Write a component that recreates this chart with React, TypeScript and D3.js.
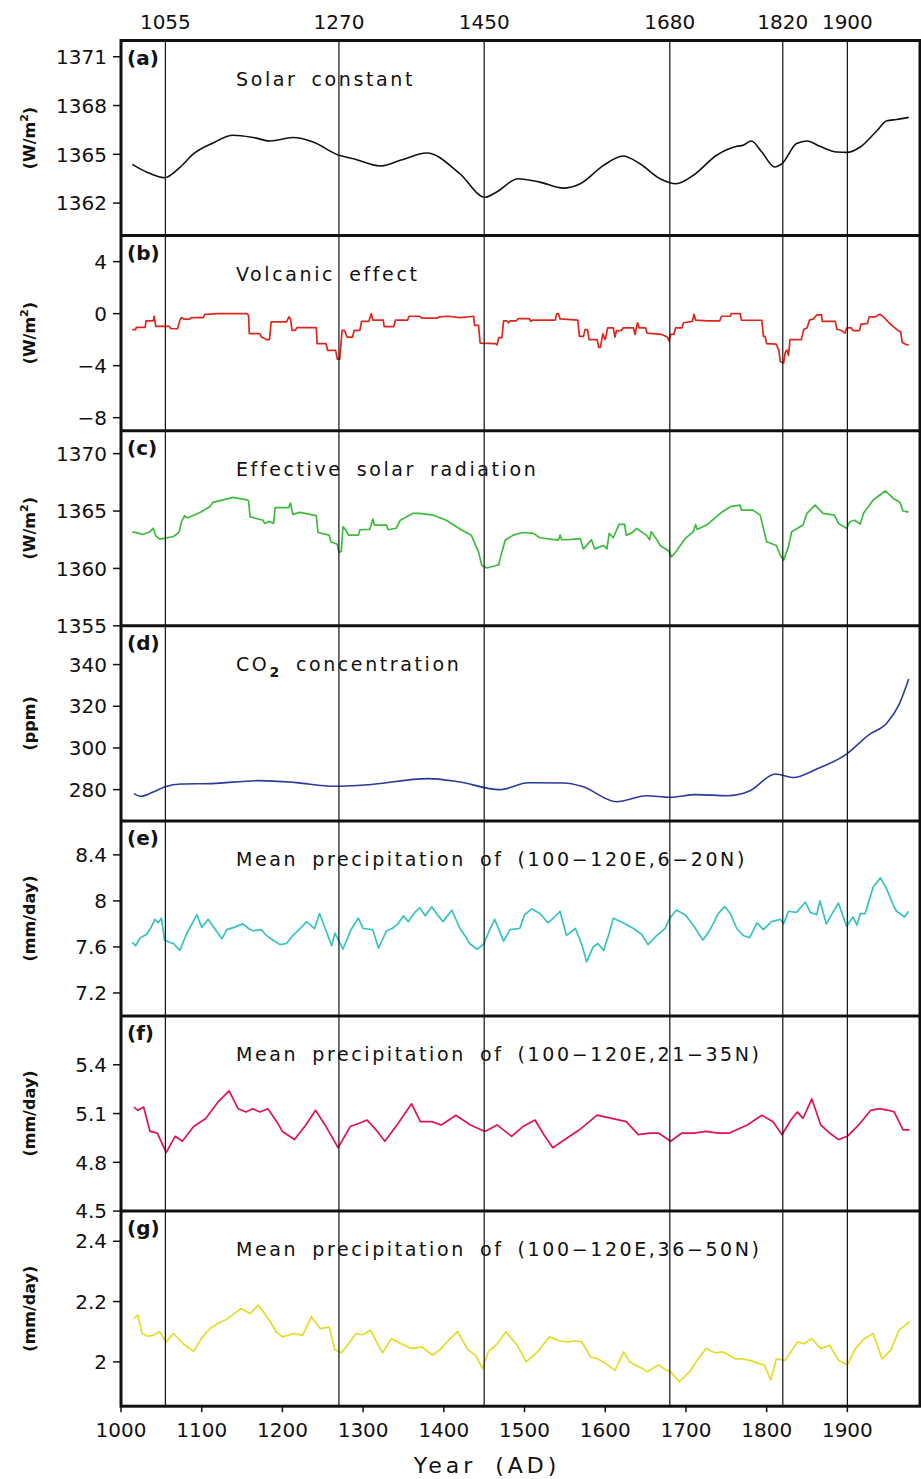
import React from 'react';
import * as d3 from 'd3';

type Pt = [number, number];

const eventYears = [1055, 1270, 1450, 1680, 1820, 1900];
const xTickYears = [1000, 1100, 1200, 1300, 1400, 1500, 1600, 1700, 1800, 1900];

const solarConstant: Pt[] = [[1014,1364.38],[1032,1363.9],[1054,1363.56],[1073,1364.2],[1090,1365.04],[1114,1365.7],[1139,1366.17],[1164,1366.03],[1185,1365.82],[1213,1366.03],[1238,1365.76],[1270,1364.94],[1288,1364.73],[1321,1364.28],[1346,1364.63],[1379,1365.08],[1420,1363.8],[1451,1362.36],[1465,1362.67],[1492,1363.5],[1519,1363.29],[1548,1362.92],[1569,1363.19],[1598,1364.32],[1622,1364.9],[1643,1364.42],[1668,1363.5],[1688,1363.19],[1709,1363.7],[1738,1364.94],[1763,1365.49],[1771,1365.56],[1781,1365.82],[1794,1365.14],[1810,1364.22],[1819,1364.42],[1837,1365.66],[1850,1365.82],[1866,1365.49],[1887,1365.14],[1899,1365.12],[1916,1365.45],[1936,1366.42],[1949,1367.06],[1961,1367.14],[1976,1367.27]];

const volcanic: Pt[] = [[1014,-1.23],[1018,-1.23],[1019,-1.05],[1030,-1.05],[1031,-0.55],[1040,-0.55],[1041,-0.2],[1042,-0.55],[1043,-0.98],[1060,-0.98],[1062,-1.16],[1070,-1.16],[1073,-0.5],[1075,-0.3],[1078,-0.42],[1085,-0.42],[1087,-0.3],[1102,-0.3],[1104,-0.05],[1120,0],[1156,0],[1158,-0.13],[1159,-1.54],[1172,-1.54],[1174,-1.8],[1178,-1.9],[1180,-2.0],[1184,-2.0],[1186,-0.64],[1205,-0.64],[1208,-0.25],[1210,-0.4],[1212,-1.28],[1216,-1.28],[1218,-1.08],[1242,-1.08],[1243,-2.31],[1254,-2.31],[1256,-2.82],[1266,-2.82],[1268,-3.5],[1271,-3.5],[1274,-1.28],[1277,-1.28],[1280,-1.8],[1287,-1.8],[1289,-1.28],[1296,-1.28],[1298,-0.6],[1307,-0.6],[1310,0],[1312,-0.5],[1325,-0.5],[1326,-1.0],[1338,-1.0],[1340,-0.5],[1355,-0.5],[1357,-0.2],[1370,-0.2],[1373,-0.35],[1392,-0.35],[1394,-0.25],[1405,-0.2],[1420,-0.3],[1437,-0.2],[1438,-0.9],[1443,-0.9],[1445,-2.26],[1464,-2.3],[1466,-2.4],[1468,-1.85],[1472,-1.85],[1474,-0.55],[1478,-0.55],[1480,-0.7],[1482,-0.55],[1490,-0.55],[1492,-0.39],[1506,-0.39],[1508,-0.6],[1510,-0.5],[1538,-0.5],[1540,0],[1542,0],[1544,-0.4],[1566,-0.5],[1568,-1.75],[1573,-1.75],[1575,-1.23],[1578,-1.23],[1580,-2.0],[1590,-2.0],[1592,-2.6],[1594,-2.6],[1597,-1.55],[1600,-2.0],[1603,-1.1],[1610,-1.1],[1612,-1.8],[1614,-1.3],[1620,-1.3],[1622,-1.1],[1635,-1.1],[1637,-1.6],[1640,-0.7],[1642,-1.1],[1650,-1.1],[1652,-1.5],[1670,-1.6],[1677,-1.8],[1679,-2.1],[1681,-1.6],[1685,-1.6],[1687,-1.1],[1695,-1.1],[1697,-0.7],[1708,-0.6],[1710,-0.05],[1712,-0.5],[1726,-0.55],[1742,-0.55],[1744,-0.2],[1755,-0.2],[1756,0],[1767,0],[1769,-0.51],[1794,-0.51],[1796,-1.75],[1798,-1.75],[1800,-2.3],[1812,-2.35],[1815,-2.8],[1817,-3.7],[1821,-3.8],[1823,-3.0],[1825,-2.8],[1827,-3.2],[1829,-2.0],[1843,-2.0],[1846,-1.2],[1850,-1.1],[1853,-0.5],[1858,-0.4],[1862,-0.1],[1868,-0.1],[1869,-0.6],[1885,-0.6],[1887,-1.2],[1893,-1.3],[1897,-1.5],[1899,-1.1],[1905,-1.1],[1907,-1.3],[1915,-1.3],[1917,-0.8],[1925,-0.75],[1927,-0.25],[1935,-0.25],[1940,-0.05],[1944,-0.2],[1950,-0.6],[1955,-0.9],[1963,-1.3],[1966,-1.4],[1968,-2.2],[1972,-2.35],[1976,-2.42]];

const effectiveSolar: Pt[] = [[1014,1363.19],[1020,1363.1],[1027,1362.96],[1036,1363.2],[1040,1363.5],[1043,1362.84],[1048,1362.55],[1065,1362.78],[1072,1363.16],[1075,1364.07],[1079,1364.59],[1082,1364.4],[1098,1364.88],[1110,1365.38],[1114,1365.76],[1139,1366.19],[1156,1365.97],[1158,1365.9],[1160,1364.5],[1176,1364.2],[1178,1363.92],[1184,1364.1],[1189,1363.92],[1191,1365.29],[1208,1365.3],[1210,1365.7],[1213,1364.71],[1222,1364.88],[1242,1364.6],[1244,1363.13],[1258,1362.9],[1260,1362.32],[1268,1362.1],[1270,1361.39],[1273,1361.5],[1275,1363.63],[1278,1363.4],[1282,1362.9],[1294,1362.9],[1296,1363.37],[1308,1363.4],[1310,1363.78],[1312,1364.3],[1314,1363.78],[1329,1363.78],[1331,1363.37],[1341,1363.5],[1346,1364.2],[1362,1364.8],[1370,1364.8],[1387,1364.64],[1403,1364.2],[1420,1363.43],[1434,1362.9],[1443,1361.44],[1447,1360.28],[1453,1360.04],[1466,1360.28],[1468,1360.3],[1470,1360.92],[1476,1362.46],[1486,1362.9],[1498,1363.13],[1511,1363.05],[1519,1362.67],[1542,1362.46],[1544,1362.9],[1546,1362.5],[1552,1362.5],[1569,1362.6],[1573,1361.7],[1578,1362.1],[1583,1362.5],[1587,1361.7],[1598,1362.0],[1602,1361.7],[1605,1363.05],[1610,1362.67],[1617,1363.83],[1624,1363.83],[1626,1362.9],[1633,1363.1],[1639,1363.48],[1651,1362.9],[1655,1362.5],[1657,1363.2],[1664,1362.5],[1668,1362.0],[1679,1361.5],[1682,1361.0],[1688,1361.5],[1693,1362.0],[1699,1362.6],[1709,1363.19],[1712,1363.83],[1714,1363.4],[1726,1363.8],[1744,1364.88],[1755,1365.38],[1767,1365.52],[1769,1365.08],[1783,1365.08],[1792,1364.64],[1796,1363.49],[1800,1362.32],[1812,1362.0],[1817,1361.15],[1821,1360.72],[1827,1361.9],[1831,1363.19],[1845,1363.78],[1850,1364.8],[1860,1365.52],[1866,1365.08],[1870,1364.8],[1884,1364.64],[1889,1363.92],[1899,1363.49],[1903,1364.07],[1909,1364.2],[1916,1363.87],[1920,1364.8],[1932,1365.96],[1947,1366.75],[1957,1366.1],[1965,1365.76],[1969,1365.0],[1976,1364.9]];

const co2: Pt[] = [[1016,278.1],[1025,276.8],[1039,278.7],[1054,281.3],[1075,282.7],[1112,282.9],[1170,284.3],[1214,283.5],[1265,281.6],[1301,282.2],[1381,285.3],[1418,283.8],[1469,280],[1505,283.3],[1549,283.2],[1571,281.6],[1614,274.2],[1651,277.1],[1680,276.3],[1712,277.6],[1752,277.1],[1778,279.2],[1811,287.5],[1833,285.8],[1862,289.9],[1898,296.8],[1927,306.4],[1949,312],[1964,320.8],[1976,333.1]];

const precipSouth: Pt[] = [[1014,7.64],[1018,7.61],[1024,7.68],[1032,7.71],[1038,7.78],[1042,7.84],[1046,7.81],[1050,7.85],[1054,7.66],[1060,7.64],[1065,7.63],[1073,7.57],[1081,7.71],[1088,7.8],[1094,7.88],[1100,7.77],[1108,7.84],[1116,7.76],[1125,7.67],[1131,7.75],[1140,7.77],[1151,7.8],[1158,7.76],[1164,7.74],[1174,7.75],[1180,7.7],[1188,7.66],[1197,7.62],[1205,7.63],[1213,7.7],[1222,7.76],[1230,7.82],[1240,7.76],[1246,7.89],[1253,7.76],[1261,7.61],[1265,7.72],[1275,7.58],[1285,7.75],[1294,7.85],[1300,7.76],[1312,7.75],[1319,7.59],[1329,7.74],[1336,7.76],[1343,7.8],[1350,7.87],[1356,7.82],[1364,7.9],[1370,7.94],[1377,7.87],[1385,7.95],[1392,7.88],[1399,7.82],[1410,7.92],[1420,7.76],[1426,7.7],[1432,7.63],[1441,7.58],[1449,7.62],[1457,7.75],[1463,7.84],[1470,7.72],[1474,7.65],[1482,7.75],[1494,7.76],[1500,7.88],[1509,7.93],[1519,7.89],[1529,7.81],[1537,7.86],[1544,7.91],[1552,7.7],[1563,7.76],[1571,7.62],[1577,7.47],[1585,7.6],[1591,7.63],[1598,7.57],[1604,7.7],[1610,7.85],[1622,7.81],[1635,7.76],[1645,7.71],[1653,7.62],[1664,7.7],[1674,7.76],[1680,7.85],[1688,7.92],[1699,7.88],[1709,7.79],[1721,7.66],[1730,7.75],[1740,7.89],[1748,7.95],[1755,7.89],[1763,7.76],[1771,7.7],[1779,7.68],[1788,7.81],[1796,7.75],[1806,7.82],[1817,7.84],[1821,7.8],[1827,7.91],[1837,7.9],[1848,7.99],[1854,7.9],[1862,7.88],[1866,8.0],[1874,7.8],[1882,7.9],[1889,7.98],[1899,7.78],[1907,7.86],[1912,7.79],[1916,7.89],[1922,7.89],[1932,8.12],[1941,8.2],[1949,8.1],[1957,7.96],[1961,7.91],[1967,7.88],[1971,7.86],[1976,7.91]];

const precipMiddle: Pt[] = [[1016,5.14],[1021,5.12],[1028,5.14],[1036,4.99],[1045,4.98],[1056,4.86],[1067,4.96],[1076,4.93],[1090,5.02],[1105,5.07],[1120,5.17],[1134,5.24],[1145,5.13],[1155,5.11],[1163,5.13],[1172,5.11],[1182,5.13],[1193,5.05],[1200,4.99],[1215,4.94],[1229,5.03],[1241,5.12],[1254,5.02],[1269,4.89],[1284,5.02],[1295,5.04],[1305,5.06],[1316,5.0],[1327,4.93],[1342,5.03],[1360,5.16],[1371,5.05],[1385,5.05],[1397,5.03],[1415,5.09],[1433,5.03],[1451,4.99],[1466,5.03],[1484,4.96],[1498,5.02],[1513,5.06],[1524,4.97],[1535,4.89],[1550,4.94],[1568,5.0],[1590,5.09],[1608,5.07],[1626,5.05],[1641,4.97],[1655,4.98],[1666,4.98],[1681,4.93],[1695,4.98],[1710,4.98],[1725,4.99],[1740,4.98],[1754,4.98],[1776,5.03],[1794,5.09],[1808,5.05],[1819,4.97],[1830,5.06],[1838,5.11],[1845,5.07],[1856,5.19],[1867,5.03],[1878,4.98],[1889,4.94],[1900,4.96],[1914,5.03],[1929,5.12],[1940,5.13],[1951,5.12],[1958,5.11],[1969,5.0],[1977,5.0]];

const precipNorth: Pt[] = [[1016,2.144],[1021,2.155],[1026,2.094],[1033,2.085],[1040,2.088],[1048,2.1],[1056,2.066],[1065,2.094],[1077,2.06],[1090,2.035],[1101,2.083],[1110,2.11],[1120,2.127],[1130,2.14],[1138,2.155],[1149,2.177],[1160,2.16],[1170,2.188],[1178,2.16],[1185,2.133],[1192,2.1],[1200,2.083],[1215,2.094],[1225,2.088],[1236,2.15],[1247,2.11],[1258,2.115],[1265,2.04],[1273,2.03],[1282,2.06],[1291,2.094],[1300,2.09],[1309,2.105],[1316,2.07],[1324,2.03],[1335,2.077],[1347,2.06],[1360,2.044],[1373,2.05],[1386,2.022],[1395,2.04],[1404,2.066],[1417,2.1],[1430,2.04],[1440,2.02],[1448,1.978],[1455,2.033],[1466,2.06],[1477,2.1],[1491,2.055],[1502,2.0],[1516,2.033],[1531,2.083],[1543,2.07],[1553,2.066],[1563,2.07],[1571,2.066],[1582,2.016],[1591,2.01],[1601,1.994],[1612,1.972],[1623,2.033],[1630,2.0],[1637,1.99],[1645,1.98],[1652,1.967],[1666,1.99],[1674,1.975],[1681,1.967],[1692,1.934],[1706,1.972],[1715,2.01],[1725,2.044],[1736,2.03],[1746,2.033],[1761,2.01],[1770,2.01],[1779,2.005],[1790,1.995],[1797,1.99],[1805,1.94],[1812,2.01],[1823,2.005],[1838,2.066],[1846,2.06],[1856,2.077],[1867,2.044],[1878,2.055],[1889,2.005],[1900,1.99],[1910,2.044],[1921,2.077],[1932,2.094],[1943,2.01],[1954,2.04],[1964,2.105],[1971,2.12],[1977,2.133]];

const ticksA = [1371, 1368, 1365, 1362];
const ticksB = [4, 0, -4, -8];
const ticksC = [1370, 1365, 1360, 1355];
const ticksD = [340, 320, 300, 280];
const ticksE = [8.4, 8, 7.6, 7.2];
const ticksF = [5.4, 5.1, 4.8, 4.5];
const ticksG = [2.4, 2.2, 2];

const W = 921, H = 1479;
const X0 = 121, X1 = 920;
const TOP = 40.5, PH = 195.1;
const FONT = "'DejaVu Sans', 'Liberation Sans', sans-serif";

interface Panel {
  tag: string;
  title: React.ReactNode;
  unit: React.ReactNode;
  domain: [number, number];
  ticks: number[];
  color: string;
  data: Pt[];
  smooth: boolean;
}

const wm2 = <>(W/m<tspan dy={-7} fontSize={11}>2</tspan><tspan dy={7}>)</tspan></>;

const panels: Panel[] = [
  { tag: '(a)', title: 'Solar constant', unit: wm2, domain: [1360, 1372], ticks: ticksA, color: '#111111', data: solarConstant, smooth: true },
  { tag: '(b)', title: 'Volcanic effect', unit: wm2, domain: [-9, 6], ticks: ticksB, color: '#e0261c', data: volcanic, smooth: false },
  { tag: '(c)', title: 'Effective solar radiation', unit: wm2, domain: [1355, 1372], ticks: ticksC, color: '#3dbb3d', data: effectiveSolar, smooth: false },
  { tag: '(d)', title: <>CO<tspan dy={6} fontSize={14} fontWeight="bold">2</tspan><tspan dy={-6}>{' concentration'}</tspan></>, unit: '(ppm)', domain: [265, 358.6], ticks: ticksD, color: '#2b3a9c', data: co2, smooth: true },
  { tag: '(e)', title: 'Mean precipitation of (100−120E,6−20N)', unit: '(mm/day)', domain: [7.0, 8.695], ticks: ticksE, color: '#38c2c2', data: precipSouth, smooth: false },
  { tag: '(f)', title: 'Mean precipitation of (100−120E,21−35N)', unit: '(mm/day)', domain: [4.5, 5.7], ticks: ticksF, color: '#e0105e', data: precipMiddle, smooth: false },
  { tag: '(g)', title: 'Mean precipitation of (100−120E,36−50N)', unit: '(mm/day)', domain: [1.853, 2.5], ticks: ticksG, color: '#e2dc2a', data: precipNorth, smooth: false },
];

const fmt = (v: number) => (v < 0 ? '−' + Math.abs(v) : String(v));

export default function App() {
  const x = d3.scaleLinear().domain([1000, 1990]).range([X0, X1]);
  const bottom = TOP + PH * panels.length;

  return (
    <svg width={W} height={H} viewBox={`0 0 ${W} ${H}`} style={{ position: 'absolute', left: 0, top: 0, background: '#fff' }} fontFamily={FONT}>
      <rect x={0} y={0} width={W} height={H} fill="#fff" />
      {panels.map((p, i) => {
        const y0 = TOP + i * PH;
        const y1 = y0 + PH;
        const y = d3.scaleLinear().domain(p.domain).range([y1, y0]);
        const line = d3.line<Pt>().x(d => x(d[0])).y(d => y(d[1])).curve(p.smooth ? d3.curveMonotoneX : d3.curveLinear);
        return (
          <g key={p.tag}>
            <path d={line(p.data) || ''} fill="none" stroke={p.color} strokeWidth={p.smooth ? 1.6 : 1.7} strokeLinejoin="round" />
            {p.ticks.map(t => (
              <g key={t}>
                <line x1={X0 - 8} x2={X0} y1={y(t)} y2={y(t)} stroke="#111" strokeWidth={1.5} />
                <text x={X0 - 14} y={y(t)} dy="0.36em" textAnchor="end" fontSize={20} fill="#111">{fmt(t)}</text>
              </g>
            ))}
            <text x={127} y={y0 + 24} fontSize={20} fontWeight="bold" fill="#111">{p.tag}</text>
            <text x={236} y={y0 + 45} fontSize={19} fill="#111" letterSpacing={2.6} wordSpacing={5.5}>{p.title}</text>
            <text transform={`translate(35,${(y0 + y1) / 2}) rotate(-90)`} textAnchor="middle" fontSize={16} fontWeight="bold" fill="#111">{p.unit}</text>
          </g>
        );
      })}
      {eventYears.map(yr => (
        <g key={yr}>
          <line x1={x(yr)} x2={x(yr)} y1={TOP} y2={bottom} stroke="#111" strokeWidth={1.2} />
          <text x={x(yr)} y={29} textAnchor="middle" fontSize={20} fill="#111">{yr}</text>
        </g>
      ))}
      {panels.map((p, i) => i > 0 ? <line key={'sep' + i} x1={X0} x2={X1} y1={TOP + i * PH} y2={TOP + i * PH} stroke="#111" strokeWidth={3} /> : null)}
      <rect x={X0} y={TOP} width={X1 - X0} height={bottom - TOP} fill="none" stroke="#111" strokeWidth={3} />
      {xTickYears.map(yr => (
        <g key={yr}>
          <line x1={x(yr)} x2={x(yr)} y1={bottom} y2={bottom + 6} stroke="#111" strokeWidth={1.5} />
          <text x={x(yr)} y={1437} textAnchor="middle" fontSize={20} fill="#111">{yr}</text>
        </g>
      ))}
      <text x={487} y={1473} textAnchor="middle" fontSize={22} fill="#111" letterSpacing={4} wordSpacing={8}>Year (AD)</text>
    </svg>
  );
}
